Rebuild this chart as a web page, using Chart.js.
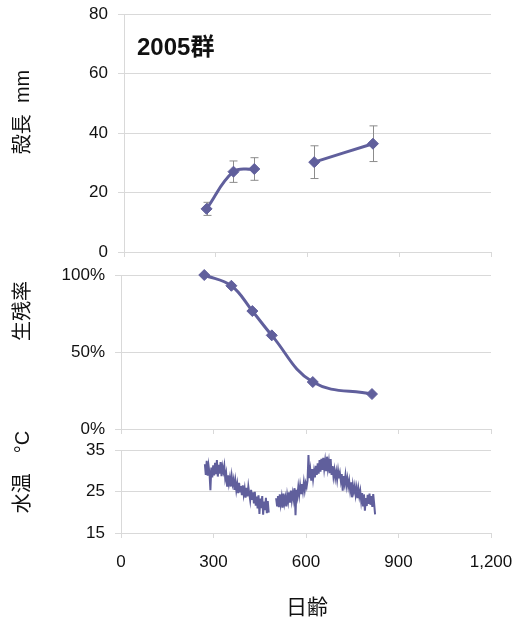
<!DOCTYPE html>
<html>
<head>
<meta charset="utf-8">
<script src="https://cdn.jsdelivr.net/npm/chart.js@4.4.1/dist/chart.umd.min.js"></script>
<style>
  body { margin: 0; background: #fff; }
  #wrap { position: relative; width: 512px; height: 622px; overflow: hidden;
          font-family: 'Liberation Sans', 'Noto Sans CJK JP', sans-serif; color: #111; }
  canvas { position: absolute; left: 0; }
  .vlab { position: absolute; white-space: nowrap; font-size: 20px;
          transform: translate(-50%, -50%) rotate(-90deg); }
</style>
</head>
<body>
<div id="wrap">
  <canvas id="c1" width="512" height="262" style="top:0"></canvas>
  <canvas id="c2" width="512" height="177" style="top:262px"></canvas>
  <canvas id="c3" width="512" height="183" style="top:439px"></canvas>
  <div style="position:absolute;left:137px;top:27px;font-size:24px;font-weight:bold">2005群</div>
  <div class="vlab" style="left:20px;top:112px">殻長&nbsp;&nbsp;mm</div>
  <div class="vlab" style="left:20px;top:311px">生残率</div>
  <div class="vlab" style="left:20px;top:472px">水温　°C</div>
  <div style="position:absolute;left:307px;top:605px;transform:translate(-50%,-50%);font-size:21px">日齢</div>
</div>
<script>
// sampling days (日齢)
const sampleDays = [270, 358, 426, 489, 622, 814];
// 殻長 mm (mean, ± sd); no measurement at day 489
const shellLen = [14.5, 27.0, 27.9, null, 30.2, 36.4];
const shellErr = [2.2, 3.6, 3.8, null, 5.5, 6.0];
// 生残率
const survival = [1.00, 0.93, 0.766, 0.608, 0.305, 0.227];

// 水温 °C, read every 3 days, two logger periods
const tempStep = 3;
const tempStart1 = 272;
const tempSeg1 = [31.6, 29.0, 32.4, 28.8, 31.2, 29.5, 25.3, 30.8, 28.4, 31.3,
  28.9, 31.9, 29.2, 32.6, 28.6, 31.4, 29.3, 32.1, 28.7, 31.0,
  29.8, 31.2, 28.2, 29.4, 26.4, 28.9, 26.9, 28.3, 26.2, 28.7,
  26.8, 27.9, 25.4, 27.5, 25.3, 26.8, 24.6, 27.1, 25.0, 26.3,
  24.1, 26.5, 24.3, 25.7, 23.5, 25.9, 23.8, 26.2, 24.5, 22.9,
  25.4, 23.2, 24.8, 22.1, 24.9, 21.6, 23.8, 20.9, 24.1, 19.6,
  23.3, 21.0, 23.9, 19.4, 22.6, 20.5, 23.5, 19.8, 22.7, 19.9];
const tempStart2 = 503;
const tempSeg2 = [23.4, 21.6, 23.9, 21.2, 24.3, 22.0, 23.6, 21.1, 24.5, 22.2,
  23.5, 21.4, 24.1, 22.6, 24.8, 22.3, 25.2, 22.9, 24.6, 23.1,
  25.8, 19.3, 25.4, 23.9, 26.1, 24.2, 26.4, 24.6, 26.8, 25.1,
  27.2, 25.3, 27.0, 26.1, 27.6, 33.8, 28.2, 30.1, 27.6, 30.4,
  28.0, 29.9, 28.4, 31.2, 29.0, 31.8, 29.3, 32.6, 29.8, 32.9,
  30.2, 33.1, 30.5, 32.4, 30.1, 33.4, 30.6, 32.2, 29.4, 32.8,
  29.0, 31.1, 28.6, 30.2, 28.3, 29.8, 27.9, 30.0, 28.2, 29.4,
  27.6, 29.2, 25.2, 28.7, 27.0, 28.9, 26.5, 28.1, 26.2, 27.6,
  25.4, 27.2, 23.6, 26.5, 25.0, 26.3, 24.2, 25.8, 23.4, 25.6,
  23.8, 25.1, 22.7, 24.6, 21.6, 24.3, 20.4, 23.4, 21.5, 24.2,
  22.0, 24.5, 21.8, 23.9, 21.3, 24.4, 22.1, 19.5];

const LINE = '#605f9c';
const GRID = '#d9d9d9';

Chart.defaults.font.family = "'Liberation Sans', 'Noto Sans CJK JP', sans-serif";
Chart.defaults.font.size = 17;
Chart.defaults.color = '#111';
Chart.defaults.animation = false;

function xAxis(showLabels, h) {
  return {
    type: 'linear', min: 0, max: 1200,
    ticks: { stepSize: 300, display: showLabels, padding: 14, maxRotation: 0, autoSkip: false },
    grid: { drawOnChartArea: false, drawTicks: true, tickLength: 5, color: GRID },
    border: { color: GRID },
    afterFit(s) { s.height = h; s.paddingLeft = 0; s.paddingRight = 0; }
  };
}

function yAxis(min, max, step, w, cb) {
  const ax = {
    min: min, max: max,
    ticks: { stepSize: step, padding: 10 },
    grid: { color: GRID, tickLength: 6 },
    border: { color: GRID },
    afterFit(s) { s.width = w; s.paddingTop = 0; s.paddingBottom = 0; }
  };
  if (cb) ax.ticks.callback = cb;
  return ax;
}

const baseOpts = (pad) => ({
  responsive: false,
  layout: { padding: pad },
  plugins: { legend: { display: false }, tooltip: { enabled: false } }
});

const errorBars = {
  id: 'errorBars',
  beforeDatasetsDraw(chart) {
    const { ctx, scales: { x, y } } = chart;
    ctx.save();
    ctx.strokeStyle = '#8c8c8c';
    ctx.lineWidth = 1;
    sampleDays.forEach((d, i) => {
      if (shellLen[i] == null) return;
      const px = Math.round(x.getPixelForValue(d)) + 0.5;
      const top = y.getPixelForValue(shellLen[i] + shellErr[i]);
      const bot = y.getPixelForValue(shellLen[i] - shellErr[i]);
      ctx.beginPath();
      ctx.moveTo(px, top); ctx.lineTo(px, bot);
      ctx.moveTo(px - 4, top); ctx.lineTo(px + 4, top);
      ctx.moveTo(px - 4, bot); ctx.lineTo(px + 4, bot);
      ctx.stroke();
    });
    ctx.restore();
  }
};

const markerStyle = {
  borderColor: LINE, backgroundColor: LINE, borderWidth: 3,
  pointStyle: 'rectRot', pointRadius: 5.5, pointBorderWidth: 1,
  pointBackgroundColor: LINE, pointBorderColor: LINE,
  tension: 0.4, clip: false
};

// 殻長
new Chart(document.getElementById('c1'), {
  type: 'line',
  data: {
    datasets: [Object.assign({
      data: sampleDays.map((d, i) => ({ x: d, y: shellLen[i] })),
      spanGaps: false
    }, markerStyle)]
  },
  options: Object.assign(baseOpts({ top: 14, right: 21, left: 0, bottom: 0 }), {
    scales: { x: xAxis(false, 10), y: yAxis(0, 80, 20, 124) }
  }),
  plugins: [errorBars]
});

// 生残率
new Chart(document.getElementById('c2'), {
  type: 'line',
  data: {
    datasets: [Object.assign({
      data: sampleDays.map((d, i) => ({ x: d, y: survival[i] }))
    }, markerStyle)]
  },
  options: Object.assign(baseOpts({ top: 13, right: 21, left: 0, bottom: 0 }), {
    scales: { x: xAxis(false, 10), y: yAxis(0, 1, 0.5, 121, v => Math.round(v * 100) + '%') }
  })
});

// 水温
const tempPoints = tempSeg1.map((t, i) => ({ x: tempStart1 + i * tempStep, y: t }))
  .concat([{ x: (tempStart1 + tempSeg1.length * tempStep + tempStart2) / 2, y: null }])
  .concat(tempSeg2.map((t, i) => ({ x: tempStart2 + i * tempStep, y: t })));

new Chart(document.getElementById('c3'), {
  type: 'line',
  data: {
    datasets: [{
      data: tempPoints, borderColor: LINE, borderWidth: 2,
      pointRadius: 0, tension: 0, spanGaps: false, clip: false
    }]
  },
  options: Object.assign(baseOpts({ top: 11, right: 21, left: 0, bottom: 0 }), {
    scales: { x: xAxis(true, 89), y: yAxis(15, 35, 10, 121) }
  })
});
</script>
</body>
</html>
